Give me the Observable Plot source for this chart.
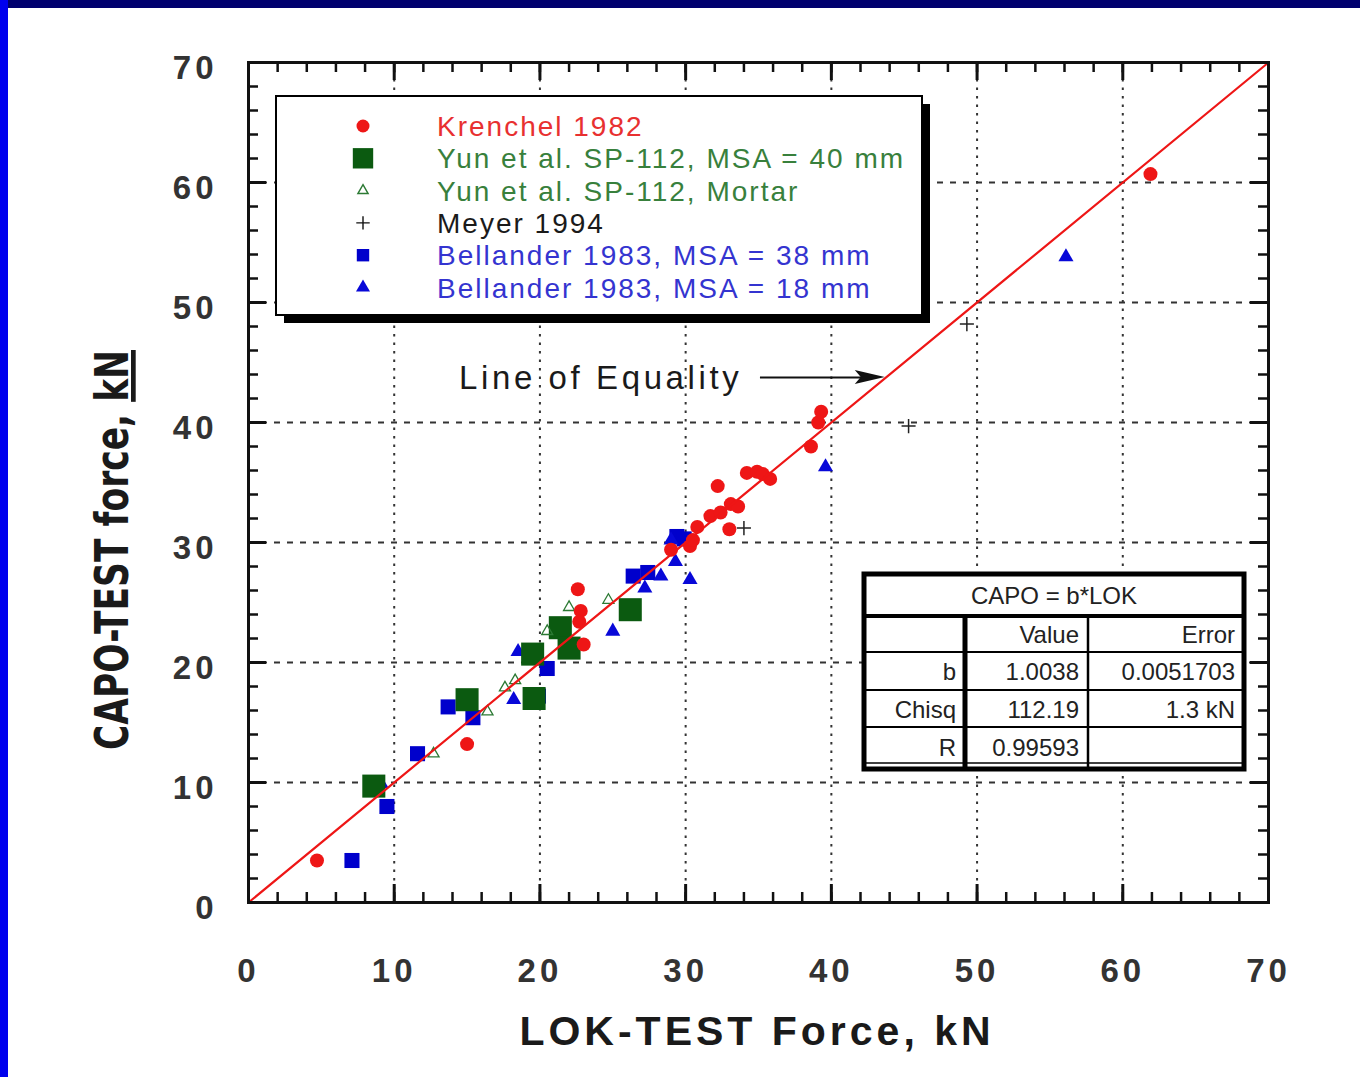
<!DOCTYPE html>
<html>
<head>
<meta charset="utf-8">
<script src="https://cdn.jsdelivr.net/npm/d3@7"></script>
<script src="https://cdn.jsdelivr.net/npm/@observablehq/plot@0.6"></script>
<style>
  html, body { margin: 0; padding: 0; background: #fff; }
  #wrap { position: relative; width: 1360px; height: 1077px; overflow: hidden; background: #fff; }
  #wrap svg { position: absolute; left: 0; top: 0; }
  .bar-top { position: absolute; left: 0; top: 0; width: 1360px; height: 8px; background: #00006e; z-index: 2; }
  .bar-left { position: absolute; left: 0; top: 0; width: 8px; height: 1077px; background: #0000ee; z-index: 2; }
</style>
</head>
<body>
<div id="wrap"><div class="bar-top"></div><div class="bar-left"></div></div>
<script>
// ---------- data (LOK-TEST force kN, CAPO-TEST force kN) ----------
const xTicks = [0, 10, 20, 30, 40, 50, 60, 70];
const yTicks = [0, 10, 20, 30, 40, 50, 60, 70];
const gridValues = [10, 20, 30, 40, 50, 60];
const minorTicks = d3.range(0, 71, 2);

const krenchel = [
  [4.7, 3.5], [15.0, 13.2], [22.6, 26.1], [22.8, 24.3], [22.7, 23.4], [23.0, 21.5],
  [29.0, 29.4], [30.3, 29.7], [30.5, 30.2], [30.8, 31.3], [31.7, 32.2], [32.4, 32.5],
  [32.2, 34.7], [33.1, 33.2], [33.6, 33.0], [33.0, 31.1], [34.2, 35.8], [34.9, 35.9],
  [35.3, 35.7], [35.8, 35.3], [38.6, 38.0], [39.1, 40.0], [39.3, 40.9], [61.9, 60.7]
];
const yun40 = [
  [8.6, 9.7], [15.0, 16.9], [19.5, 20.7], [19.6, 17.0], [21.4, 22.9], [22.0, 21.2], [26.2, 24.4]
];
const yunMortar = [
  [12.7, 12.4], [16.4, 15.9], [17.6, 17.9], [18.3, 18.5], [20.5, 22.6], [22.0, 24.6], [24.7, 25.2]
];
const meyer = [
  [34.0, 31.2], [45.3, 39.7], [49.3, 48.2]
];
const bellander38 = [
  [7.1, 3.5], [9.5, 8.0], [11.6, 12.4], [13.7, 16.3], [15.4, 15.4], [19.9, 17.2], [20.5, 19.5],
  [26.4, 27.2], [27.4, 27.5], [29.4, 30.5], [29.9, 30.3]
];
const bellander18 = [
  [9.1, 9.9], [18.2, 16.9], [18.5, 20.9], [25.0, 22.6], [27.2, 26.2], [28.3, 27.2],
  [29.0, 30.2], [29.3, 28.4], [30.3, 26.9], [39.6, 36.3], [56.1, 53.8]
];
const equalityLine = [[0, 0], [70, 70]];

const legendLabels = [
  "Krenchel 1982",
  "Yun et al. SP-112, MSA = 40 mm",
  "Yun et al. SP-112, Mortar",
  "Meyer 1994",
  "Bellander 1983, MSA = 38 mm",
  "Bellander 1983, MSA = 18 mm"
];
const fitTitle = "CAPO = b*LOK";
const fitRows = [
  ["", "Value", "Error"],
  ["b", "1.0038", "0.0051703"],
  ["Chisq", "112.19", "1.3 kN"],
  ["R", "0.99593", ""]
];
const xTitle = "LOK-TEST Force, kN";
const yTitle = "CAPO-TEST force, ";
const yTitleUnit = "kN";
const annotationText = "Line of Equality";

// ---------- styles ----------
const RED = "#ee1616", GREEN = "#0b5a10", GREEN_T = "#2c7a34", BLUE = "#0000cc", BLUE_T = "#0808d8";
const legendStyles = [
  {symbol: "circle", r: 6.5, fill: RED, stroke: "none", text: "#e83030"},
  {symbol: "square", r: 11.5, fill: GREEN, stroke: "none", text: "#38803c"},
  {symbol: "triangle", r: 3.8, fill: "none", stroke: GREEN_T, text: "#38803c"},
  {symbol: "plus", r: 4.4, fill: "none", stroke: "#111", text: "#1a1a1a"},
  {symbol: "square", r: 7.0, fill: BLUE, stroke: "none", text: "#3434d0"},
  {symbol: "triangle", r: 5.2, fill: BLUE_T, stroke: "none", text: "#3434d0"}
];

const uX = 1020 / 70, uY = 840 / 70; // px per unit (used for inward tick lengths)
const minorLen = 10, majorLen = 18;
const font = "'Liberation Sans', Arial, sans-serif";

const chart = Plot.plot({
  width: 1360,
  height: 1077,
  marginLeft: 248, marginRight: 92, marginTop: 62, marginBottom: 175,
  x: {domain: [0, 70]},
  y: {domain: [0, 70]},
  style: {background: "transparent", fontFamily: font, overflow: "visible"},
  marks: [
    // grid
    Plot.ruleY(gridValues, {y: d => d, stroke: "#333", strokeWidth: 1.8, strokeDasharray: "6,7"}),
    Plot.ruleX(gridValues, {x: d => d, stroke: "#333", strokeWidth: 2, strokeDasharray: "2.5,6"}),
    // annotation
    Plot.text([annotationText], {x: 14.45, y: 43.7, text: d => d, textAnchor: "start", fontSize: 33, fill: "#1a1a1a"}),
    Plot.link([0], {x1: 35.1, x2: 42.4, y1: 43.75, y2: 43.75, stroke: "#111", strokeWidth: 2}),
    // data
    Plot.dot(bellander38, {x: d => d[0], y: d => d[1], symbol: "square", r: 8.5, fill: BLUE}),
    Plot.dot(bellander18, {x: d => d[0], y: d => d[1], symbol: "triangle", r: 5.6, fill: BLUE_T}),
    Plot.dot(yun40, {x: d => d[0], y: d => d[1], symbol: "square", r: 13, fill: GREEN}),
    Plot.dot(yunMortar, {x: d => d[0], y: d => d[1], symbol: "triangle", r: 4.1, fill: "none", stroke: GREEN_T, strokeWidth: 1.3}),
    Plot.dot(krenchel, {x: d => d[0], y: d => d[1], symbol: "circle", r: 7, fill: RED}),
    Plot.dot(meyer, {x: d => d[0], y: d => d[1], symbol: "plus", r: 4.6, stroke: "#222", strokeWidth: 1.5}),
    Plot.line(equalityLine, {x: d => d[0], y: d => d[1], stroke: RED, strokeWidth: 2.2}),
    // frame
    Plot.frame({stroke: "#111", strokeWidth: 3}),
    // inward ticks: bottom/top
    Plot.ruleX(minorTicks, {x: d => d, y1: 0, y2: minorLen / uY, stroke: "#111", strokeWidth: 2.5}),
    Plot.ruleX(minorTicks, {x: d => d, y1: 70, y2: 70 - minorLen / uY, stroke: "#111", strokeWidth: 2.5}),
    Plot.ruleX(xTicks, {x: d => d, y1: 0, y2: majorLen / uY, stroke: "#111", strokeWidth: 3}),
    Plot.ruleX(xTicks, {x: d => d, y1: 70, y2: 70 - majorLen / uY, stroke: "#111", strokeWidth: 3}),
    // inward ticks: left/right
    Plot.ruleY(minorTicks, {y: d => d, x1: 0, x2: minorLen / uX, stroke: "#111", strokeWidth: 2.5}),
    Plot.ruleY(minorTicks, {y: d => d, x1: 70, x2: 70 - minorLen / uX, stroke: "#111", strokeWidth: 2.5}),
    Plot.ruleY(yTicks, {y: d => d, x1: 0, x2: majorLen / uX, stroke: "#111", strokeWidth: 3}),
    Plot.ruleY(yTicks, {y: d => d, x1: 70, x2: 70 - majorLen / uX, stroke: "#111", strokeWidth: 3}),
    // tick labels
    Plot.axisX({ticks: xTicks, tickSize: 0, tickPadding: 56, label: null, fontSize: 33, fontWeight: "bold", fill: "#333", tickFormat: d => String(d)}),
    Plot.axisY({ticks: yTicks, tickSize: 0, tickPadding: 31, dy: 6, label: null, fontSize: 33, fontWeight: "bold", fill: "#333", tickFormat: d => String(d)})
  ]
});

document.getElementById("wrap").appendChild(chart);

// ---------- post-layout decorations ----------
const svg = d3.select(chart);
const sx = chart.scale("x"), sy = chart.scale("y");
svg.selectAll('[aria-label="x-axis tick label"] text, [aria-label="y-axis tick label"] text').attr("letter-spacing", 4);
svg.selectAll('text').filter(function() { return this.textContent === annotationText; }).attr("letter-spacing", 3.6);

const over = svg.append("g").attr("font-family", font).attr("text-anchor", "start");

// arrow head for the annotation
{
  const hx = sx.apply(43.7), hy = sy.apply(43.75);
  over.append("path")
    .attr("d", `M${hx},${hy} L${hx - 30},${hy - 7} L${hx - 24},${hy} L${hx - 30},${hy + 7} Z`)
    .attr("fill", "#111");
}

// axis titles
over.append("text")
  .attr("x", 757).attr("y", 1045)
  .attr("text-anchor", "middle")
  .attr("font-size", 41).attr("font-weight", "bold").attr("letter-spacing", 4)
  .attr("fill", "#1a1a1a")
  .text(xTitle);

{
  const t = over.append("text")
    .attr("transform", "translate(128,550) rotate(-90)")
    .attr("text-anchor", "middle")
    .attr("font-family", "'Liberation Sans Narrow', 'DejaVu Sans Condensed', 'Liberation Sans', sans-serif")
    .attr("font-size", 47).attr("font-weight", "bold")
    .attr("textLength", 400).attr("lengthAdjust", "spacingAndGlyphs")
    .attr("fill", "#1a1a1a");
  t.append("tspan").text(yTitle);
  t.append("tspan").text(yTitleUnit)
    .attr("style", "text-decoration: underline; text-decoration-color: #e01818; text-decoration-thickness: 4px;");
}

// legend box
{
  const L = {x: 276, y: 96, w: 646, h: 219};
  over.append("rect").attr("x", L.x + 8).attr("y", L.y + 8).attr("width", L.w).attr("height", L.h).attr("fill", "#000");
  over.append("rect").attr("x", L.x).attr("y", L.y).attr("width", L.w).attr("height", L.h)
    .attr("fill", "#fff").attr("stroke", "#000").attr("stroke-width", 2);
  const symMap = {circle: d3.symbolCircle, square: d3.symbolSquare, triangle: d3.symbolTriangle, plus: d3.symbolPlus};
  legendLabels.forEach((lab, i) => {
    const s = legendStyles[i];
    const cy = 126 + i * 32.3;
    over.append("path")
      .attr("transform", `translate(363,${cy})`)
      .attr("d", d3.symbol(symMap[s.symbol], Math.PI * s.r * s.r)())
      .attr("fill", s.fill).attr("stroke", s.stroke).attr("stroke-width", 1.4);
    over.append("text")
      .attr("x", 437).attr("y", cy).attr("dy", "0.36em")
      .attr("text-anchor", "start")
      .attr("font-size", 28).attr("letter-spacing", 2)
      .attr("fill", s.text)
      .text(lab);
  });
}

// fit table
{
  const T = {x: 864, y: 574, w: 380, h: 195};
  const colX = [864, 965, 1088, 1244];
  const rowY = [616, 652, 690, 727, 766];
  over.append("rect").attr("x", T.x).attr("y", T.y).attr("width", T.w).attr("height", T.h)
    .attr("fill", "#fff").attr("stroke", "#000").attr("stroke-width", 5);
  over.append("line").attr("x1", T.x + 2).attr("x2", T.x + T.w - 2).attr("y1", 763).attr("y2", 763).attr("stroke", "#000").attr("stroke-width", 1.5);
  over.append("line").attr("x1", T.x).attr("x2", T.x + T.w).attr("y1", rowY[0]).attr("y2", rowY[0]).attr("stroke", "#000").attr("stroke-width", 4);
  [rowY[1], rowY[2], rowY[3]].forEach(y => {
    over.append("line").attr("x1", T.x).attr("x2", T.x + T.w).attr("y1", y).attr("y2", y).attr("stroke", "#000").attr("stroke-width", 2);
  });
  over.append("line").attr("x1", colX[1]).attr("x2", colX[1]).attr("y1", rowY[0]).attr("y2", T.y + T.h).attr("stroke", "#000").attr("stroke-width", 5);
  over.append("line").attr("x1", colX[2]).attr("x2", colX[2]).attr("y1", rowY[0]).attr("y2", T.y + T.h).attr("stroke", "#000").attr("stroke-width", 2.5);
  over.append("text").attr("x", 1054).attr("y", 596).attr("dy", "0.35em").attr("text-anchor", "middle")
    .attr("font-size", 24).attr("fill", "#222").text(fitTitle);
  fitRows.forEach((row, r) => {
    const cy = (rowY[r] + rowY[r + 1]) / 2 + 1;
    row.forEach((cell, c) => {
      if (!cell) return;
      over.append("text").attr("x", colX[c + 1] - 9).attr("y", cy).attr("dy", "0.35em").attr("text-anchor", "end")
        .attr("font-size", 24).attr("fill", "#222").text(cell);
    });
  });
}
</script>
</body>
</html>
